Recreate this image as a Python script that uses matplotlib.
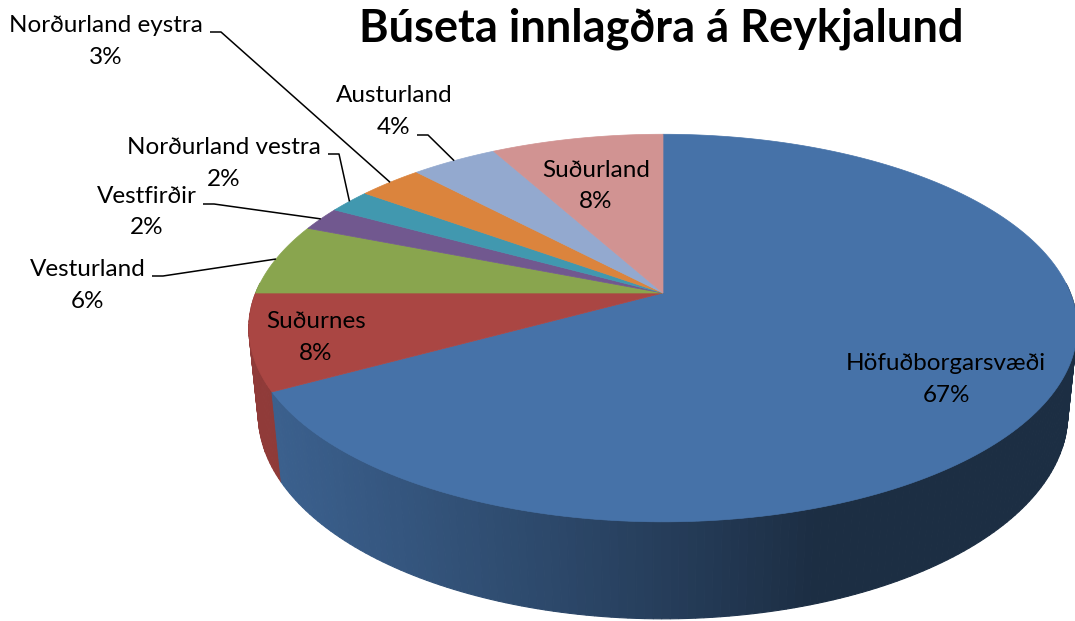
import numpy as np
import matplotlib.pyplot as plt
from matplotlib.patches import Polygon

# Gögn
regions = ["Höfuðborgarsvæði", "Suðurnes", "Vesturland", "Vestfirðir",
           "Norðurland vestra", "Norðurland eystra", "Austurland", "Suðurland"]
shares = [67, 8, 6, 2, 2, 3, 4, 8]
colors = ["#4672A8", "#AA4643", "#89A54E", "#71588F",
          "#4198AF", "#DB843D", "#93A9CF", "#D19392"]
title = "Búseta innlagðra á Reykjalund"

# 3D view of the pie (pixel space)
CX, CY = 663, 293
SCALE = 2000
DIST = 4.91
ELEV = np.radians(27.4)
THICK = 0.24

# label layout: first-line baseline centre, leader start (None = inside label)
label_pos = [(946, 370), (316, 328), (88, 276), (147, 203),
             (224, 154), (106, 32), (394, 102), (596, 177)]
leader_start = [None, None, (152, 276), (203, 204),
                (328, 154), (210, 32), (417, 135), None]


def project(theta, z=0.0):
    """Perspective projection of a point on the pie rim (theta clockwise from top)"""
    x = np.sin(theta)
    y = np.cos(theta)
    d = y * np.cos(ELEV) - z * np.sin(ELEV) + DIST
    sx = x / d
    sy = (y * np.sin(ELEV) + z * np.cos(ELEV)) / d
    return CX + SCALE * sx, CY - SCALE * sy


def shade(color, theta):
    """Darken side wall colour depending on how it faces the light"""
    rgb = np.array(plt.matplotlib.colors.to_rgb(color))
    light = np.array([-0.95, -0.31])
    n = np.array([np.sin(theta), np.cos(theta)])
    f = 0.40 + 0.45 * max(0.0, n @ light)
    return tuple(np.clip(rgb * f, 0, 1))


fig = plt.figure(figsize=(10.75, 6.21), dpi=100)
ax = fig.add_axes([0, 0, 1, 1])
ax.set_xlim(0, 1075)
ax.set_ylim(621, 0)
ax.axis("off")

fracs = np.array(shares) / sum(shares)
edges = np.concatenate([[0], np.cumsum(fracs)]) * 2 * np.pi

# side walls, drawn back to front
strips = []
for i in range(len(shares)):
    n = max(2, int(np.degrees(edges[i + 1] - edges[i])))
    ts = np.linspace(edges[i], edges[i + 1], n + 1)
    for t1, t2 in zip(ts[:-1], ts[1:]):
        tm = (t1 + t2) / 2
        if np.cos(tm) > 0.05:
            continue
        pts = [project(t1), project(t2), project(t2, -THICK), project(t1, -THICK)]
        strips.append((np.cos(tm), pts, shade(colors[i], tm)))
strips.sort(key=lambda s: -s[0])
for _, pts, c in strips:
    ax.add_patch(Polygon(pts, closed=True, facecolor=c, edgecolor=c, lw=0.8))

# top faces
for i in range(len(shares)):
    ts = np.linspace(edges[i], edges[i + 1], 200)
    pts = [(CX, CY)] + [project(t) for t in ts]
    ax.add_patch(Polygon(pts, closed=True, facecolor=colors[i],
                         edgecolor=colors[i], lw=0.5))

# labels and leader lines
font = "Lato"
for i, name in enumerate(regions):
    x, y = label_pos[i]
    ax.text(x, y, name, ha="center", va="baseline", fontsize=17.5,
            family=font, color="black")
    ax.text(x, y + 31.5, f"{shares[i]}%", ha="center", va="baseline",
            fontsize=17.5, family=font, color="black")
    if leader_start[i] is not None:
        sx, sy = leader_start[i]
        mid = (edges[i] + edges[i + 1]) / 2
        ex, ey = project(mid)
        ax.plot([sx, sx + 11, ex], [sy, sy, ey], color="black", lw=1.1,
                solid_capstyle="butt")

ax.text(661, 41, title, ha="center", va="baseline", fontsize=32.5,
        fontweight="bold", family=font, color="black")

fig.savefig("out.png", dpi=100)
